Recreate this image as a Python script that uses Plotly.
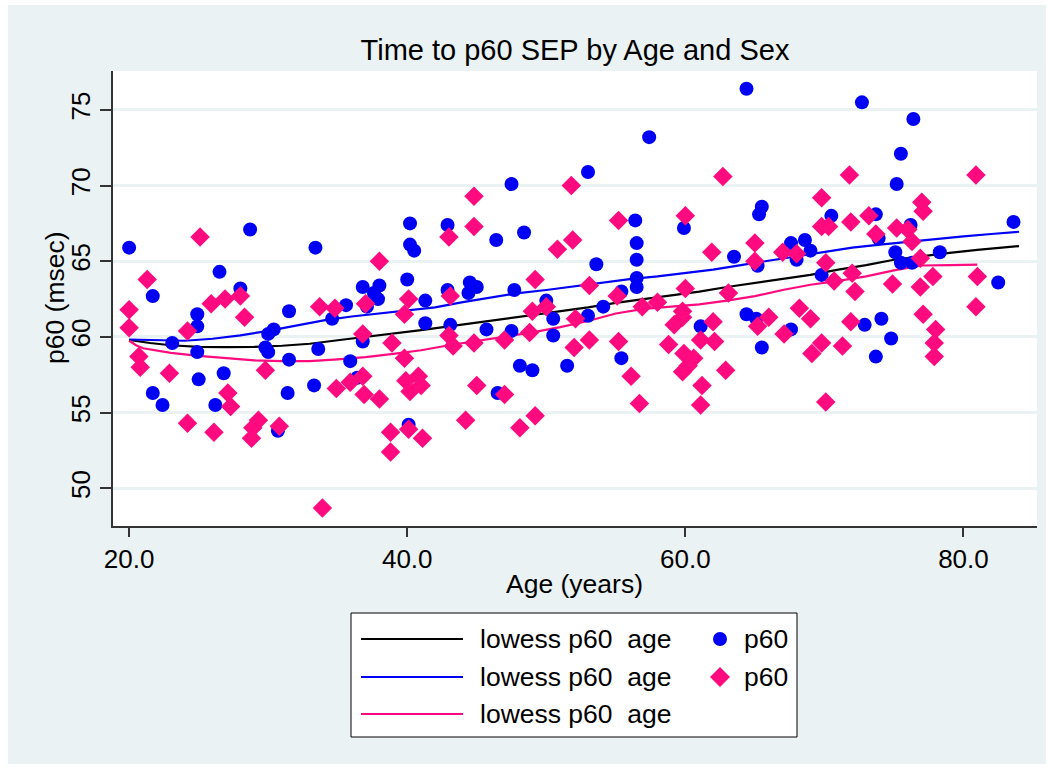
import plotly.graph_objects as go

# ---------------- data ----------------
male_age = [20.0, 28.7, 33.4, 40.2, 40.2, 40.5, 26.5, 21.7, 28.0, 40.0, 24.9, 24.9, 31.5, 35.6, 34.6,
            36.8, 38.0, 37.6, 37.9, 37.1, 41.3, 41.3, 23.1, 24.9, 30.0, 30.4, 29.8, 30.0, 31.5, 33.6,
            36.8, 35.9, 25.0, 26.8, 21.7, 22.4, 26.2, 31.4, 33.3, 36.4, 30.7, 40.1, 47.5, 53.0, 57.4,
            42.9, 46.4, 48.4, 56.4, 56.5, 56.5, 53.6, 59.9, 63.5, 44.5, 45.0, 44.4, 42.9, 47.7, 55.4,
            56.5, 56.5, 50.0, 54.1, 43.1, 45.7, 47.5, 50.5, 50.5, 53.0, 64.4, 61.1, 55.4, 48.1, 49.0,
            51.5, 46.5, 64.4, 72.7, 76.4, 75.5, 75.2, 65.5, 65.3, 70.5, 73.7, 76.2, 83.6, 67.6, 68.6,
            69.0, 68.0, 65.2, 73.9, 75.1, 75.5, 76.3, 78.3, 69.8, 82.5, 65.1, 67.6, 65.5, 72.9, 74.1,
            74.8, 73.7]
male_p60 = [65.9, 67.1, 65.9, 67.5, 66.1, 65.7, 64.3, 62.7, 63.2, 63.8, 61.5, 60.7, 61.7, 62.1, 61.2,
            63.3, 63.4, 62.9, 62.5, 62.0, 62.4, 60.9, 59.6, 59.0, 60.2, 60.5, 59.3, 59.0, 58.5, 59.2,
            59.7, 58.4, 57.2, 57.6, 56.3, 55.5, 55.5, 56.3, 56.8, 57.3, 53.8, 54.2, 70.1, 70.9, 73.2,
            67.4, 66.4, 66.9, 67.7, 66.2, 65.1, 64.8, 67.2, 65.3, 63.6, 63.3, 62.9, 63.1, 63.1, 63.0,
            63.9, 63.3, 62.4, 62.0, 60.8, 60.5, 60.4, 61.2, 60.1, 61.4, 61.5, 60.7, 58.6, 58.1, 57.8,
            58.1, 56.3, 76.4, 75.5, 74.4, 72.1, 70.1, 68.6, 68.1, 68.0, 68.1, 67.4, 67.6, 66.2, 66.4,
            65.7, 65.1, 64.7, 66.5, 65.6, 64.9, 64.9, 65.6, 64.1, 63.6, 61.2, 60.5, 59.3, 60.8, 61.2,
            59.9, 58.7]

female_age = [25.1, 21.3, 20.0, 20.0, 25.9, 26.9, 28.0, 28.3, 24.2, 20.7, 20.8, 22.9, 29.8, 27.1, 27.3,
              24.2, 26.1, 29.3, 28.9, 28.8, 30.8, 33.7, 34.8, 37.0, 38.0, 36.8, 38.9, 40.1, 39.8, 39.8,
              34.9, 35.9, 36.8, 36.9, 38.0, 39.9, 40.2, 40.8, 41.0, 38.8, 38.8, 40.1, 41.1, 33.9, 44.8,
              44.8, 43.0, 51.8, 55.2, 50.8, 51.9, 49.2, 53.1, 55.1, 60.0, 62.7, 61.9, 60.0, 43.1, 63.1,
              49.0, 50.0, 52.1, 56.9, 58.0, 59.8, 59.8, 59.2, 62.0, 43.0, 43.3, 44.8, 47.0, 48.8, 53.1,
              55.2, 52.0, 58.8, 61.1, 62.1, 59.9, 60.6, 60.2, 59.8, 61.2, 61.1, 62.9, 56.1, 56.7, 45.0,
              47.0, 44.2, 48.1, 49.2, 71.8, 80.9, 69.8, 77.0, 77.1, 71.9, 73.2, 69.8, 70.3, 73.7, 75.2,
              76.0, 76.3, 65.0, 65.0, 67.0, 68.0, 70.1, 76.9, 72.0, 70.7, 77.8, 81.0, 74.9, 76.9, 72.2,
              65.2, 66.0, 67.1, 68.2, 69.0, 69.1, 69.8, 71.3, 71.9, 77.1, 78.0, 77.9, 77.9, 80.9, 70.1]
female_p60 = [66.6, 63.8, 61.8, 60.6, 62.2, 62.5, 62.7, 61.3, 60.4, 58.7, 58.0, 57.6, 57.8, 56.3, 55.4,
              54.3, 53.7, 54.5, 54.0, 53.3, 54.1, 62.0, 61.9, 62.2, 65.0, 60.2, 59.6, 62.5, 61.5, 58.6,
              56.6, 57.0, 57.4, 56.2, 55.9, 57.1, 56.4, 57.4, 56.8, 53.7, 52.4, 53.9, 53.3, 48.7, 69.3,
              67.3, 66.6, 70.0, 67.7, 65.8, 66.4, 63.8, 63.4, 62.7, 68.0, 70.6, 65.6, 63.2, 62.7, 62.9,
              61.7, 62.0, 61.2, 62.0, 62.3, 61.7, 61.3, 60.8, 61.0, 60.1, 59.4, 59.6, 59.8, 60.3, 59.8,
              59.7, 59.3, 59.5, 59.8, 59.7, 58.9, 58.6, 58.1, 57.7, 56.8, 55.5, 57.8, 57.4, 55.6, 56.8,
              56.2, 54.5, 54.0, 54.8, 70.7, 70.7, 69.2, 68.9, 68.3, 67.6, 68.0, 67.3, 67.3, 66.8, 67.2,
              67.1, 66.3, 66.2, 65.0, 65.6, 65.5, 64.9, 65.2, 64.2, 63.7, 64.0, 64.0, 63.5, 63.3, 63.0,
              60.7, 61.3, 60.2, 61.9, 61.2, 58.9, 59.6, 59.4, 61.0, 61.5, 60.5, 59.6, 58.7, 62.0, 55.7]

# lowess curves
all_age = [20, 21.5, 23, 25, 27, 29, 31, 33, 35, 37, 39, 41, 43, 45, 47, 49, 51, 53, 55, 57, 59, 61,
           63, 65, 67, 69, 71, 73, 75, 77, 79, 81, 83, 84]
all_fit = [59.8, 59.6, 59.45, 59.35, 59.33, 59.35, 59.42, 59.55, 59.78, 60.0, 60.2, 60.45, 60.7, 60.95,
           61.2, 61.45, 61.7, 61.95, 62.25, 62.5, 62.75, 63.0, 63.3, 63.55, 63.8, 64.1, 64.45, 64.75,
           65.1, 65.35, 65.55, 65.75, 65.9, 66.0]
male_fit_age = [20, 22, 24, 26, 28, 30, 32, 34, 36, 38, 40, 42, 44, 46, 48, 50, 52, 54, 56, 58, 60, 62,
                64, 66, 68, 70, 72, 74, 76, 78, 80, 82, 84]
male_fit = [59.83, 59.78, 59.75, 59.88, 60.1, 60.4, 60.75, 61.1, 61.35, 61.55, 61.72, 61.95, 62.3, 62.6,
            62.9, 63.1, 63.35, 63.6, 63.82, 64.0, 64.2, 64.45, 64.75, 65.05, 65.35, 65.65, 65.9, 66.1,
            66.3, 66.5, 66.65, 66.8, 66.95]
female_fit_age = [20, 20.5, 21, 23, 25, 27, 29, 31, 33, 35, 37, 39, 41, 43, 45, 47, 49, 51, 53, 55, 57,
                  59, 61, 63, 65, 67, 69, 71, 73, 75, 77, 79, 81]
female_fit = [59.75, 59.45, 59.25, 58.95, 58.75, 58.58, 58.45, 58.4, 58.4, 58.52, 58.67, 58.88, 59.12,
              59.45, 59.72, 59.98, 60.3, 60.65, 61.05, 61.55, 61.85, 62.0, 62.15, 62.4, 62.7, 63.1,
              63.45, 63.7, 64.0, 64.4, 64.72, 64.75, 64.78]

x_ticks = [20, 40, 60, 80]
x_ticklabels = ["20.0", "40.0", "60.0", "80.0"]
y_ticks = [50, 55, 60, 65, 70, 75]
y_ticklabels = ["50", "55", "60", "65", "70", "75"]
legend_labels = ["lowess p60\u00a0 age", "lowess p60\u00a0 age", "lowess p60\u00a0 age", "p60", "p60"]

# ---------------- styling ----------------
W, H = 1052, 769
ML, MR, MT, MB = 113, 15, 71, 243
PW, PH = W - ML - MR, H - MT - MB
BG = "#EAF2F3"
BLUE = "#0000F5"
PINK = "#FF0A7F"
FONT = "Liberation Sans, Arial, sans-serif"


def px(x):
    return (x - ML) / PW


def py(y):
    return (H - MB - y) / PH


fig = go.Figure()
fig.add_trace(go.Scatter(x=all_age, y=all_fit, mode="lines", line=dict(color="black", width=2.2),
                         name=legend_labels[0]))
fig.add_trace(go.Scatter(x=male_fit_age, y=male_fit, mode="lines", line=dict(color=BLUE, width=2.2),
                         name=legend_labels[1]))
fig.add_trace(go.Scatter(x=female_fit_age, y=female_fit, mode="lines", line=dict(color=PINK, width=2.2),
                         name=legend_labels[2]))
fig.add_trace(go.Scatter(x=male_age, y=male_p60, mode="markers", name=legend_labels[3],
                         marker=dict(symbol="circle", size=14, color=BLUE, line=dict(width=0))))
fig.add_trace(go.Scatter(x=female_age, y=female_p60, mode="markers", name=legend_labels[4],
                         marker=dict(symbol="diamond", size=15, color=PINK, line=dict(width=0))))

shapes = []
# white outer border around the graph region
for (x0, y0, x1, y1) in [(0, 0, 8, H), (0, 0, W, 5), (1046, 0, W, H), (0, 764, W, H)]:
    shapes.append(dict(type="rect", xref="paper", yref="paper", x0=px(x0), x1=px(x1), y0=py(y0), y1=py(y1),
                       fillcolor="white", line=dict(width=0), layer="above"))
# legend box
LX0, LX1, LY0, LY1 = 351, 797, 613, 737
shapes.append(dict(type="rect", xref="paper", yref="paper", x0=px(LX0), x1=px(LX1), y0=py(LY0), y1=py(LY1),
                   fillcolor="white", line=dict(color="black", width=1)))
rows = [639, 677, 714]
for r, c in zip(rows, ["black", BLUE, PINK]):
    shapes.append(dict(type="line", xref="paper", yref="paper", x0=px(361), x1=px(463), y0=py(r), y1=py(r),
                       line=dict(color=c, width=2.2)))
# legend markers
shapes.append(dict(type="circle", xref="paper", yref="paper", x0=px(713), x1=px(727), y0=py(rows[0] - 7),
                   y1=py(rows[0] + 7), fillcolor=BLUE, line=dict(width=0)))
cx, cy, d = 720, rows[1], 10
shapes.append(dict(type="path", xref="paper", yref="paper",
                   path=f"M {px(cx)},{py(cy - d)} L {px(cx + d)},{py(cy)} L {px(cx)},{py(cy + d)} L {px(cx - d)},{py(cy)} Z",
                   fillcolor=PINK, line=dict(width=0)))

annotations = []
for r, t in zip(rows, legend_labels[:3]):
    annotations.append(dict(xref="paper", yref="paper", x=px(478), y=py(r), text=t, showarrow=False,
                            xanchor="left", yanchor="middle", font=dict(size=26.5, color="black", family=FONT)))
for r, t in zip(rows[:2], legend_labels[3:]):
    annotations.append(dict(xref="paper", yref="paper", x=px(742), y=py(r), text=t, showarrow=False,
                            xanchor="left", yanchor="middle", font=dict(size=26.5, color="black", family=FONT)))
# axis titles
annotations.append(dict(xref="paper", yref="paper", x=px(574.5), y=py(584), text="Age (years)", showarrow=False,
                        xanchor="center", yanchor="middle", font=dict(size=26.5, color="black", family=FONT)))
annotations.append(dict(xref="paper", yref="paper", x=px(55), y=py(298), text="p60 (msec)", showarrow=False,
                        textangle=-90, xanchor="center", yanchor="middle",
                        font=dict(size=26.5, color="black", family=FONT)))

fig.update_layout(
    width=W, height=H, autosize=False,
    margin=dict(l=ML, r=MR, t=MT, b=MB, pad=0),
    paper_bgcolor=BG, plot_bgcolor="white",
    showlegend=False,
    font=dict(family=FONT, color="black", size=26),
    title=dict(text="Time to p60 SEP by Age and Sex", x=0.5, xref="paper", xanchor="center",
               y=(H - 50) / H, yref="container", yanchor="middle", font=dict(size=29, color="black", family=FONT)),
    shapes=shapes, annotations=annotations,
    xaxis=dict(range=[18.84, 85.29], tickvals=x_ticks, ticktext=x_ticklabels, showgrid=False, zeroline=False,
               showline=True, linecolor="#333333", linewidth=1.5, ticks="outside", ticklen=9, tickwidth=1.5,
               tickcolor="#333333", tickfont=dict(size=26, color="black", family=FONT)),
    yaxis=dict(range=[47.51, 77.57], tickvals=y_ticks, ticktext=y_ticklabels, showgrid=True, gridcolor=BG,
               gridwidth=2.5, zeroline=False, showline=True, linecolor="#333333", linewidth=1.5,
               ticks="outside", ticklen=11, tickwidth=1.5, tickcolor="#333333", tickangle=-90,
               tickfont=dict(size=26, color="black", family=FONT)),
)

fig.write_html("out.html")
